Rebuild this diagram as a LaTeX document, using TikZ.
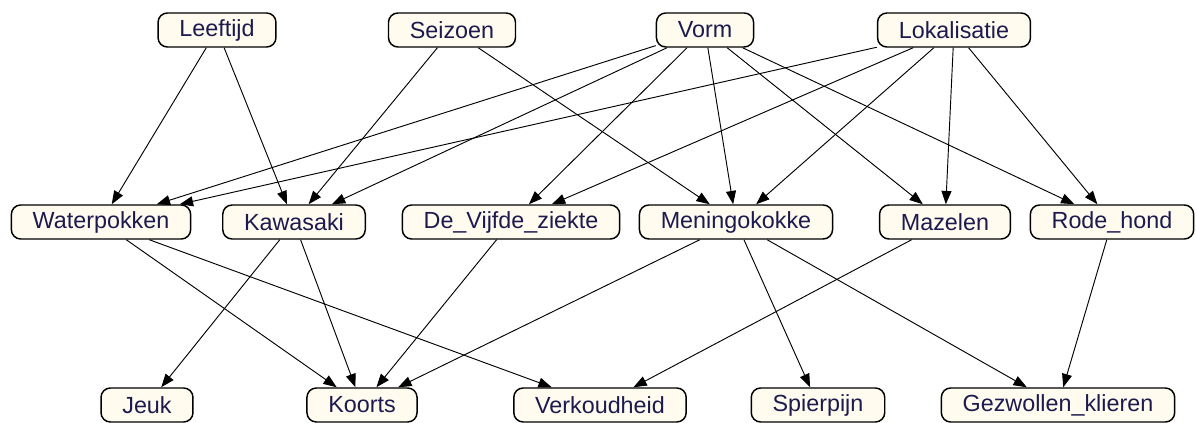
\documentclass[tikz,border=0pt]{standalone}
\usepackage{fontspec}
\setmainfont{Liberation Sans}
\usetikzlibrary{arrows.meta}
\definecolor{nodefill}{HTML}{FFFBEE}
\definecolor{nodetext}{HTML}{1C1A4E}
\tikzset{
  varbox/.style={draw=black, line width=1.1pt, fill=nodefill, rounded corners=7pt,
                 minimum height=25.5pt, inner xsep=16pt, inner ysep=2pt,
                 text=nodetext, font=\fontsize{17.5}{20}\selectfont},
  dep/.style={-{Triangle[length=10pt, width=7.5pt]}, line width=0.7pt, color=black}}

\begin{document}
\begin{tikzpicture}[x=0.75pt, y=-0.75pt]
  \useasboundingbox (0,0) rectangle (1196,423);
  % oorzaken
  \node[varbox] (leeftijd) at (217,30) {Leeftijd};
  \node[varbox] (seizoen) at (452,30) {Seizoen};
  \node[varbox] (vorm) at (705,30) {Vorm};
  \node[varbox] (lokal) at (954,30) {Lokalisatie};
  % ziektes
  \node[varbox] (water) at (101,222) {Waterpokken};
  \node[varbox] (kawa) at (294,222) {Kawasaki};
  \node[varbox] (vijfde) at (511,222) {De\_Vijfde\_ziekte};
  \node[varbox] (menin) at (736,222) {Meningokokke};
  \node[varbox] (mazelen) at (945,222) {Mazelen};
  \node[varbox] (rode) at (1112,222) {Rode\_hond};
  % symptomen
  \node[varbox] (jeuk) at (147,405) {Jeuk};
  \node[varbox] (koorts) at (362,405) {Koorts};
  \node[varbox] (verkoud) at (600,405) {Verkoudheid};
  \node[varbox] (spier) at (818,405) {Spierpijn};
  \node[varbox] (gezw) at (1058,405) {Gezwollen\_klieren};

  \draw[dep] (leeftijd) -- (water);
  \draw[dep] (leeftijd) -- (kawa);
  \draw[dep] (seizoen) -- (kawa);
  \draw[dep] (seizoen) -- (menin);
  \draw[dep] (vorm) -- (water);
  \draw[dep] (vorm) -- (kawa);
  \draw[dep] (vorm) -- (vijfde);
  \draw[dep] (vorm) -- (menin);
  \draw[dep] (vorm) -- (mazelen);
  \draw[dep] (vorm) -- (rode);
  \draw[dep] (lokal) -- (water);
  \draw[dep] (lokal) -- (vijfde);
  \draw[dep] (lokal) -- (menin);
  \draw[dep] (lokal) -- (mazelen);
  \draw[dep] (lokal) -- (rode);

  \draw[dep] (water) -- (koorts);
  \draw[dep] (water) -- (verkoud);
  \draw[dep] (kawa) -- (jeuk);
  \draw[dep] (kawa) -- (koorts);
  \draw[dep] (vijfde) -- (koorts);
  \draw[dep] (menin) -- (koorts);
  \draw[dep] (menin) -- (spier);
  \draw[dep] (menin) -- (gezw);
  \draw[dep] (mazelen) -- (verkoud);
  \draw[dep] (rode) -- (gezw);
\end{tikzpicture}
\end{document}
